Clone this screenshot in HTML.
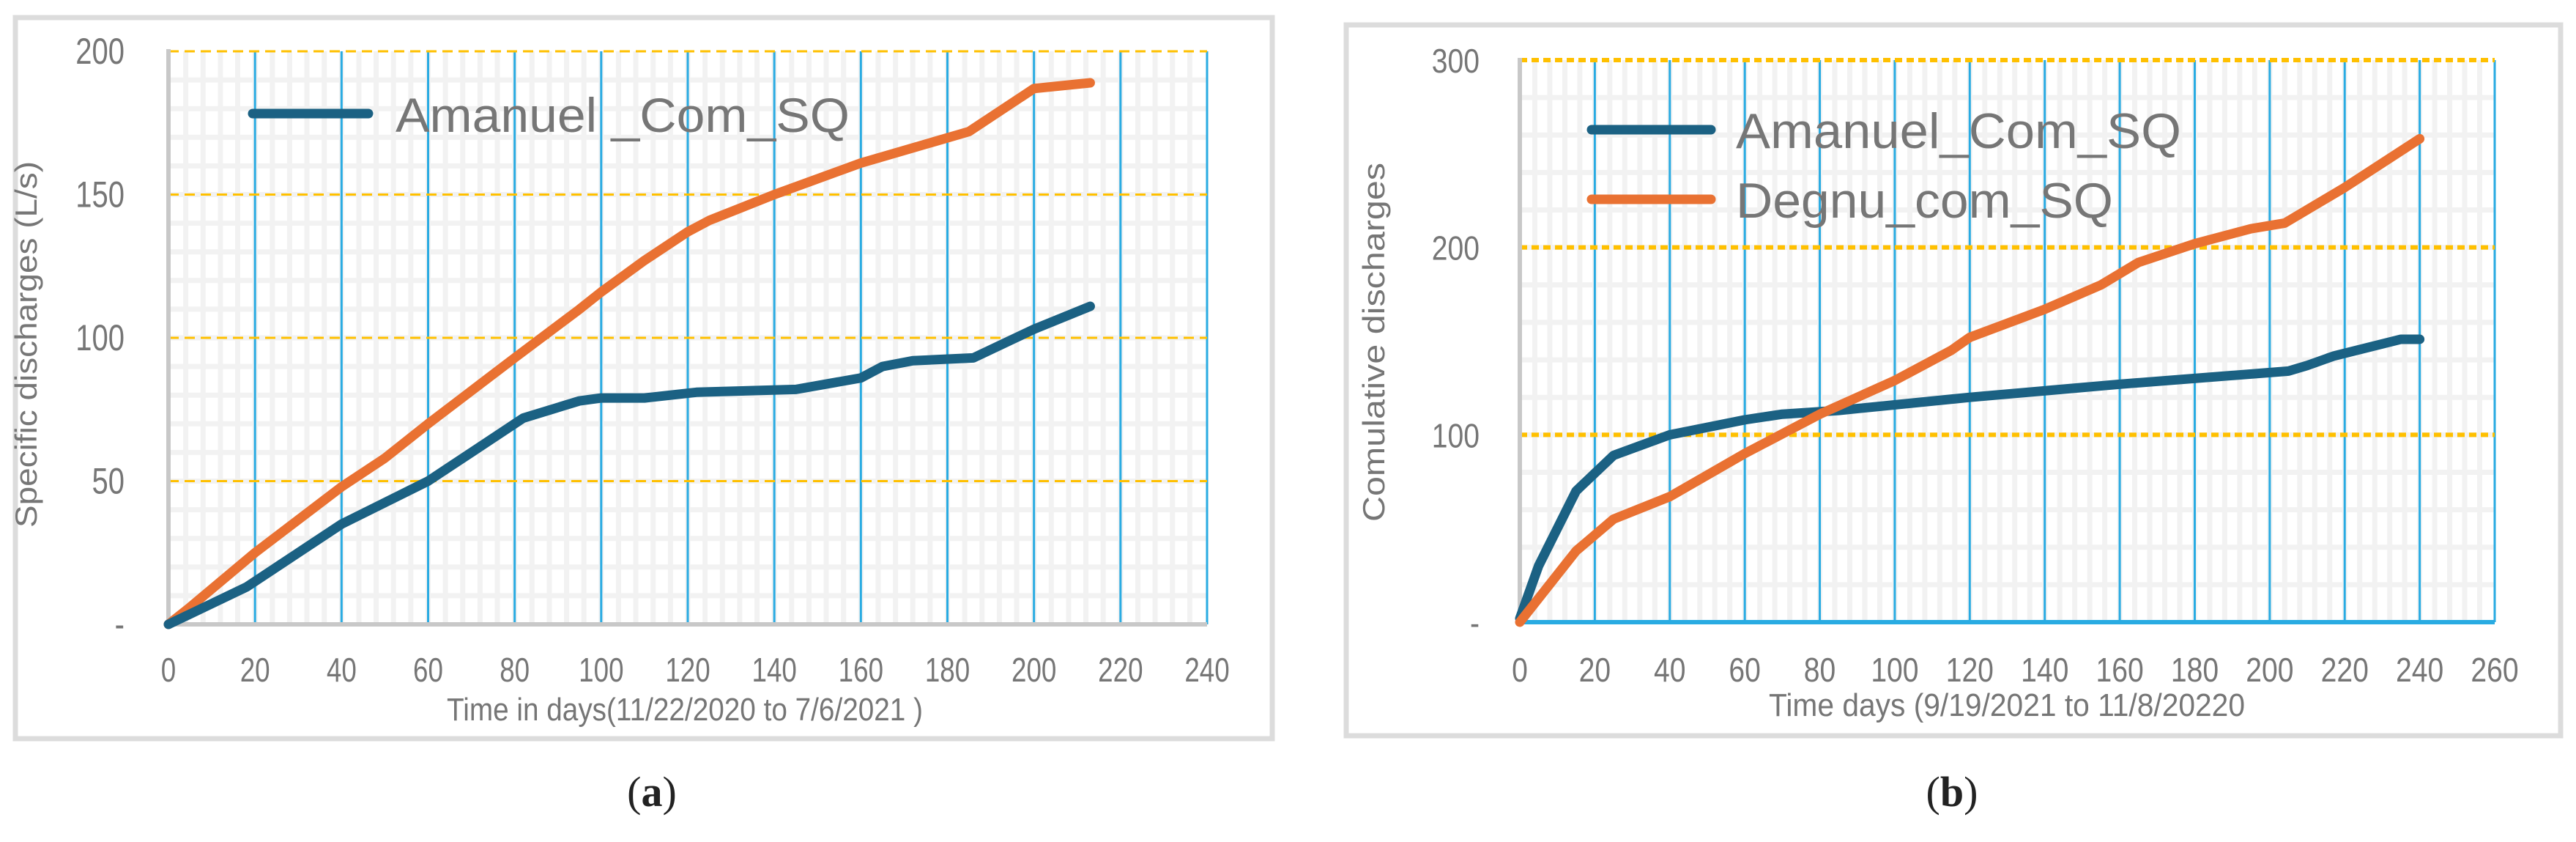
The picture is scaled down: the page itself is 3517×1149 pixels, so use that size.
<!DOCTYPE html>
<html><head><meta charset="utf-8"><style>
html,body{margin:0;padding:0;background:#fff}
svg text{font-family:"Liberation Sans",sans-serif;fill:#767676}
</style></head><body>
<svg id="svg" width="3517" height="1144" xmlns="http://www.w3.org/2000/svg">
<rect x="0" y="0" width="3517" height="1144" fill="#fff"/>
<rect x="21" y="24" width="1716" height="984" fill="#fff" stroke="#dcdcdc" stroke-width="7"/>
<rect x="1838" y="34" width="1658" height="970" fill="#fff" stroke="#dcdcdc" stroke-width="7"/>
<g id="ca"></g>
<g id="cb"></g>
<text x="890" y="1100" font-size="58" text-anchor="middle" style="font-family:'Liberation Serif',serif;fill:#222">(<tspan font-weight="bold">a</tspan>)</text>
<text x="2665" y="1100" font-size="58" text-anchor="middle" style="font-family:'Liberation Serif',serif;fill:#222">(<tspan font-weight="bold">b</tspan>)</text>
</svg>
<script>
// Chart A data
const aXTicks = [0,20,40,60,80,100,120,140,160,180,200,220,240];
const aYTicks = [0,50,100,150,200];
const aYTickLabels = ["-","50","100","150","200"];
const aOrangeDays = [0,5,20,40,50,60,80,95,100,110,120,125,140,160,185,200,213];
const aOrangeVals = [0,6,25,48,58,70,93,110,116,127,137,141,150,161,172,187,189];
const aBlueDays = [0,18,25,40,60,70,82,95,100,110,122,145,160,165,172,186,200,213];
const aBlueVals = [0,13,20,35,50,60,72,78,79,79,81,82,86,90,92,93,103,111];
// Chart B data
const bXTicks = [0,20,40,60,80,100,120,140,160,180,200,220,240,260];
const bYTicks = [0,100,200,300];
const bYTickLabels = ["-","100","200","300"];
const bBlueDays = [0,5,15,25,40,60,70,85,120,160,205,210,217,235,240];
const bBlueVals = [2,30,70,89,100,108,111,113,120,127,134,137,142,151,151];
const bOrangeDays = [0,15,25,40,60,80,100,115,120,140,155,160,165,180,195,204,220,240];
const bOrangeVals = [0,38,55,67,90,111,129,145,152,167,180,186,192,202,210,213,232,258];

const NS="http://www.w3.org/2000/svg";
function mk(p,tag,attrs,txt){const e=document.createElementNS(NS,tag);for(const k in attrs)e.setAttribute(k,attrs[k]);if(txt!==undefined)e.textContent=txt;p.appendChild(e);return e;}

function chart(g,o){
  const X=v=>o.x0+(v-o.xmin)/(o.xmax-o.xmin)*(o.x1-o.x0);
  const Y=v=>o.y0-(v-o.ymin)/(o.ymax-o.ymin)*(o.y0-o.y1);
  for(let d=o.xmin+4;d<o.xmax;d+=4){const l=mk(g,'line',{x1:X(d),x2:X(d),y1:o.y1,y2:o.y0,stroke:'#f2f2f2','stroke-width':7});
    
    }
  for(let v=o.ymin+o.ymin_step;v<o.ymax;v+=o.ymin_step){const l=mk(g,'line',{x1:o.x0,x2:o.x1,y1:Y(v),y2:Y(v),stroke:'#f2f2f2','stroke-width':7});
    
    }
  o.xt.forEach(t=>{if(t===0)return;const l=mk(g,'line',{x1:X(t),x2:X(t),y1:o.y1,y2:o.y0,stroke:'#29abe2','stroke-width':3});
    
    });
  o.yt.forEach(t=>{if(t===0)return;const l=mk(g,'line',{x1:o.x0,x2:o.x1,y1:Y(t),y2:Y(t),stroke:'#ffc000','stroke-width':o.ydw,'stroke-dasharray':o.ydash});
    
    });
  const ya=mk(g,'line',{x1:o.x0,x2:o.x0,y1:o.y1-3,y2:o.y0+3,stroke:'#c8c8c8','stroke-width':6});
  
  
  const xa=mk(g,'line',{x1:o.x0,x2:o.x1,y1:o.y0,y2:o.y0,stroke:o.xaxisColor,'stroke-width':6});
  
  
  o.xt.forEach(t=>{const e=mk(g,'text',{x:0,y:0,'font-size':o.tfs,'text-anchor':'middle',transform:`translate(${X(t)},${o.xlabY}) scale(${o.tsx},1)`},String(t));
    
    });
  o.yt.forEach((t,i)=>{const e=mk(g,'text',{x:0,y:0,'font-size':o.yfs,'text-anchor':'end',transform:`translate(${o.ylabX},${Y(t)+17}) scale(${o.tsx},1)`},o.ytl[i]);
    
    });
  const xt=mk(g,'text',{x:o.xtitleX,y:o.xtitleY,'font-size':44,'text-anchor':'middle',textLength:o.xtl,lengthAdjust:'spacingAndGlyphs'},o.xtitle);
  
  
  const yt=mk(g,'text',{x:0,y:0,'font-size':42,'text-anchor':'middle',textLength:o.ytl2,lengthAdjust:'spacingAndGlyphs',transform:`translate(${o.ytitleX},${o.ytitleY}) rotate(-90)`},o.ytitle);
  
  
  o.series.forEach(s=>{const pts=s.d.map((d,i)=>X(d)+','+Y(s.v[i])).join(' ');
    const p=mk(g,'polyline',{points:pts,fill:'none',stroke:s.c,'stroke-width':13,'stroke-linejoin':'round','stroke-linecap':'round'});
    
    });
  o.legend.forEach(L=>{const l=mk(g,'line',{x1:L.x1,x2:L.x2,y1:L.y,y2:L.y,stroke:L.c,'stroke-width':13,'stroke-linecap':'round'});
    
    
    const t=mk(g,'text',{x:L.tx,y:L.y+25,'font-size':L.fs,textLength:L.tl,lengthAdjust:'spacingAndGlyphs'},L.t);
    
    });
}
chart(document.getElementById('ca'),{x0:230,x1:1648,y0:852,y1:70,xmin:0,xmax:240,ymin:0,ymax:200,ymin_step:10,
  xt:aXTicks,yt:aYTicks,ytl:aYTickLabels,ydw:3,ydash:'14 8',xaxisColor:'#c8c8c8',tfs:46,yfs:50,tsx:0.8,xlabY:930,ylabX:170,
  xtitle:'Time in days(11/22/2020  to 7/6/2021 )',xtitleX:935,xtitleY:983,xtl:650,ytitle:'Specific discharges (L/s)',ytitleX:50,ytitleY:470,ytl2:500,
  series:[{name:'series-orange-a',d:aOrangeDays,v:aOrangeVals,c:'#e97132'},{name:'series-amanuel-a',d:aBlueDays,v:aBlueVals,c:'#1b6183'}],
  legend:[{x1:345,x2:503,y:155,c:'#1b6183',tx:540,fs:66,tl:620,t:'Amanuel _Com_SQ'}]});
chart(document.getElementById('cb'),{x0:2075,x1:3406,y0:849,y1:82,xmin:0,xmax:260,ymin:0,ymax:300,ymin_step:20,
  xt:bXTicks,yt:bYTicks,ytl:bYTickLabels,ydw:6,ydash:'10 6',xaxisColor:'#29abe2',tfs:46,yfs:46,tsx:0.85,xlabY:930,ylabX:2020,
  xtitle:'Time days (9/19/2021 to 11/8/20220',xtitleX:2740,xtitleY:977,xtl:650,ytitle:'Comulative discharges',ytitleX:1890,ytitleY:467,ytl2:490,
  series:[{name:'series-amanuel-b',d:bBlueDays,v:bBlueVals,c:'#1b6183'},{name:'series-degnu-b',d:bOrangeDays,v:bOrangeVals,c:'#e97132'}],
  legend:[{x1:2173,x2:2336,y:177,c:'#1b6183',tx:2370,fs:68,tl:608,t:'Amanuel_Com_SQ'},{x1:2173,x2:2336,y:272,c:'#e97132',tx:2370,fs:68,tl:515,t:'Degnu_com_SQ'}]});
</script>
</body></html>
